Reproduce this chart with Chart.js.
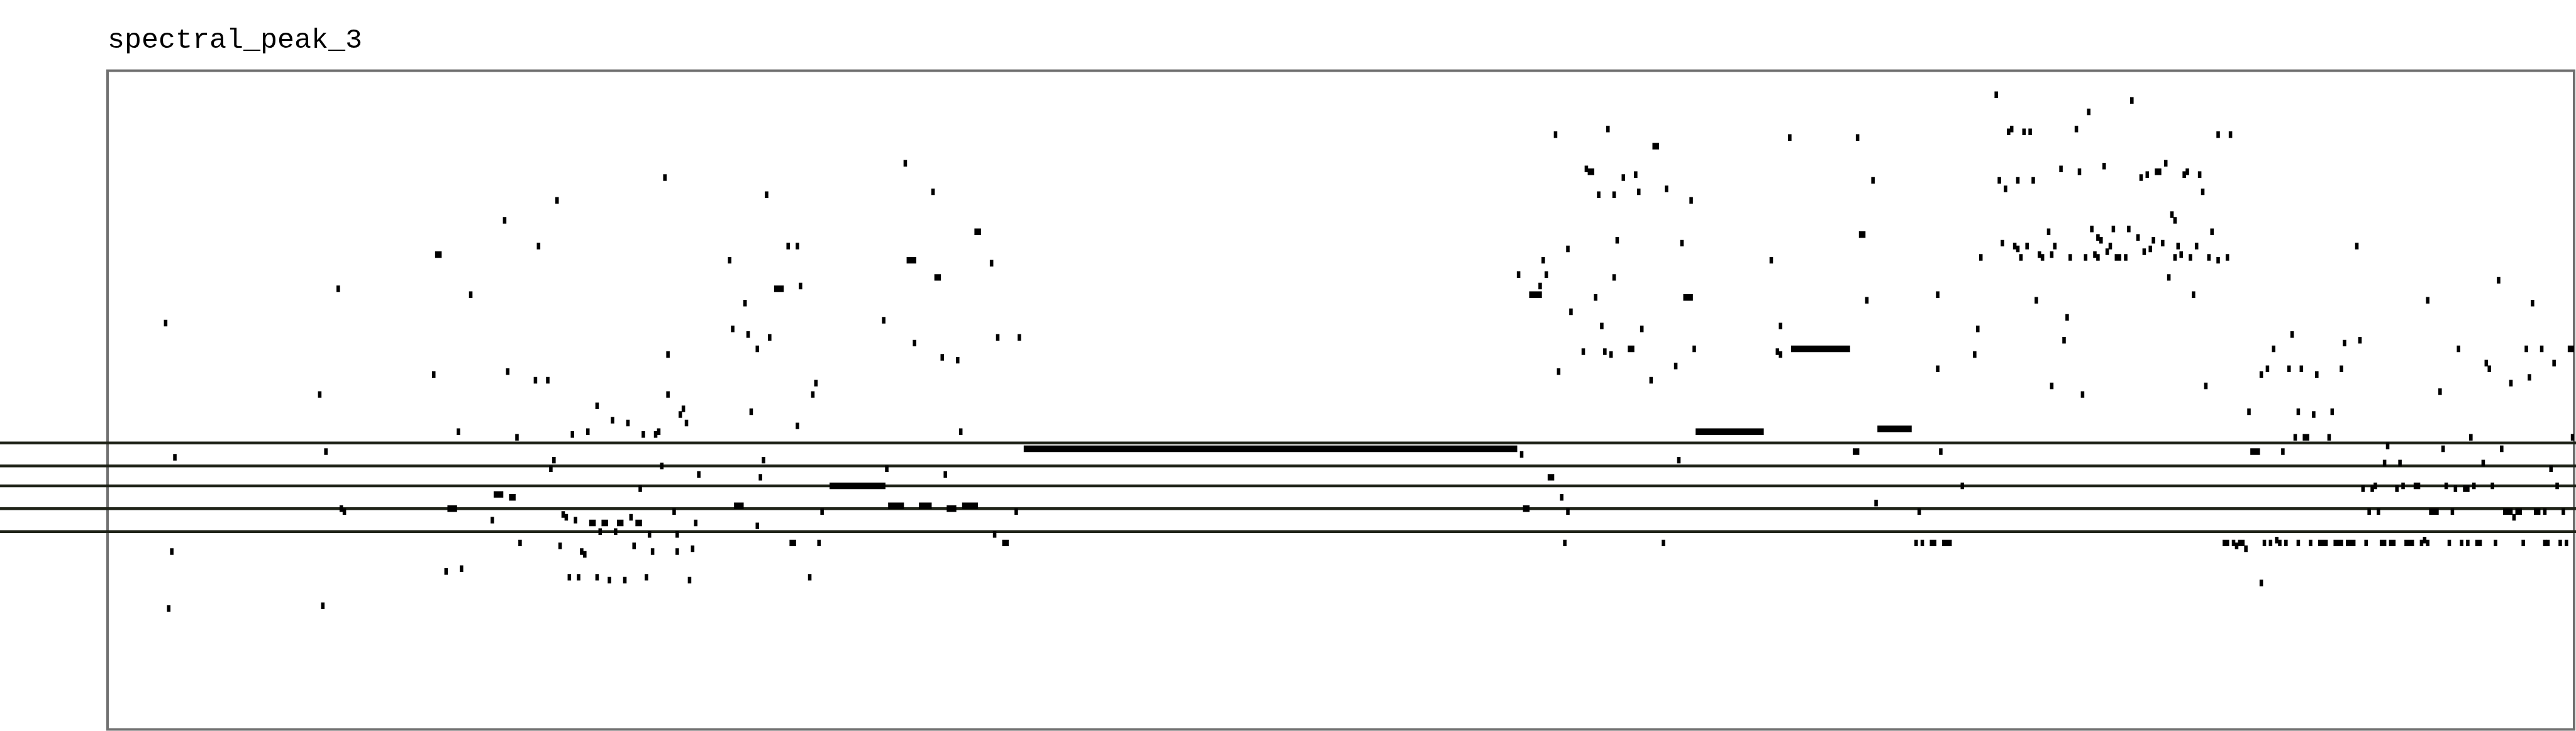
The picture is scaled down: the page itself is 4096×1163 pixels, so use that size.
<!DOCTYPE html>
<html lang="en">
<head>
  <meta charset="UTF-8" />
  <title>spectral_peak_3</title>
  <script src="https://cdn.jsdelivr.net/npm/chart.js"></script>
  <style>
    html, body {
      margin: 0;
      padding: 0;
      background: #ffffff;
      overflow: hidden;
    }
    canvas {
      display: block;
    }
  </style>
</head>
<body>
  <canvas id="peakChart" width="4096" height="1163"></canvas>

  <script>
    // peaks as [onset frame, length in frames, pitch row]
    const phrase1 = [
      [18,1,73], [19,1,-27], [20,1,-7], [21,1,26],
      [68,1,48], [69,1,-26], [70,1,28], [74,1,85], [75,1,8], [76,1,7],
      [105,1,55], [106,2,97], [109,1,-14], [110,3,8], [113,1,35], [114,1,-13],
      [117,1,83], [124,1,4], [125,3,13], [128,1,109], [129,1,56], [130,2,12]
    ];
    const phrase2 = [
      [132,1,33], [133,1,-4], [138,1,53], [139,1,100], [142,1,53], [143,1,22], [144,1,25],
      [145,1,116], [146,1,-5], [147,1,6], [148,1,5], [149,1,-16], [150,1,34], [151,1,4],
      [152,1,-16], [153,1,-7], [154,1,-8], [155,1,35], [156,2,3], [158,1,44], [158,1,-16],
      [159,1,0], [160,2,3], [162,1,-17], [163,1,39], [164,1,0], [165,2,3], [167,1,-17],
      [168,1,38], [169,1,5], [170,1,-5], [171,2,3], [172,1,15], [173,1,34], [174,1,-16],
      [175,1,-1], [176,1,-7], [177,1,34], [178,1,35], [179,1,23], [180,1,124], [181,1,62],
      [181,1,48], [183,1,7], [184,1,-1], [184,1,-7], [185,1,41], [186,1,43], [187,1,38],
      [188,1,-17], [189,1,-6], [190,1,3], [191,1,20],
      [201,1,95], [202,1,71], [203,3,9], [206,1,80], [207,1,69], [208,1,42], [210,1,64],
      [210,1,2], [211,1,19], [212,1,25], [213,1,118], [214,1,68], [216,3,85], [220,1,100],
      [221,2,-4], [223,1,100], [223,1,37], [224,1,86], [227,1,-16], [228,1,48], [229,1,52],
      [230,1,-4], [231,1,7], [234,18,16], [251,1,74], [252,1,22], [253,5,9], [258,1,129],
      [259,3,95], [261,1,66]
    ];
    const phrase3 = [
      [263,4,9], [267,1,119], [268,2,89], [270,1,61], [271,1,20], [272,3,8], [275,1,60],
      [276,1,35], [277,5,9], [281,2,105], [286,1,94], [287,1,-1], [288,1,68], [290,2,-4],
      [294,1,7], [295,1,68], [297,160,29], [457,1,90], [458,1,27], [459,2,8]
    ];
    const phrase4 = [
      [461,4,83], [464,1,86], [465,1,95], [466,1,90], [467,2,19], [469,1,139], [470,1,56],
      [471,1,12], [472,1,-4], [473,1,99], [473,1,7], [474,1,77], [478,1,63], [479,1,127],
      [480,2,126], [482,1,82], [483,1,118], [484,1,72], [485,1,63], [486,1,141], [487,1,62],
      [488,1,118], [488,1,89], [489,1,102], [491,1,124], [493,2,64], [495,1,125], [496,1,119],
      [497,1,71], [500,1,53], [501,2,135], [504,1,-4], [505,1,120], [508,1,58], [509,1,25],
      [510,1,101], [511,3,82], [513,1,116], [514,1,64], [515,22,35], [539,1,95], [541,1,63],
      [542,1,62], [542,1,72], [545,1,138], [546,19,64], [566,2,28], [567,1,138], [568,2,104],
      [570,1,81], [572,1,123], [573,1,10], [574,11,36], [586,1,-4], [587,1,7], [588,1,-4],
      [591,2,-4], [593,1,83], [593,1,57], [594,1,28], [595,3,-4]
    ];
    const phrase5 = [
      [601,1,16], [605,1,62], [606,1,71], [607,1,96], [612,1,153], [613,1,123], [614,1,101],
      [615,1,120], [616,1,140], [617,1,141], [618,1,100], [619,1,99], [619,1,123], [620,1,96],
      [621,1,140], [622,1,100], [623,1,140], [624,1,123], [625,1,81], [626,1,97], [627,1,96],
      [629,1,105], [630,1,97], [630,1,51], [631,1,100], [633,1,127], [634,1,67], [635,1,75],
      [636,1,96], [638,1,141], [639,1,126], [640,1,48], [641,1,96], [642,1,147], [643,1,106],
      [644,1,97], [645,1,96], [645,1,103], [646,1,102], [647,1,128], [648,1,98], [649,1,100],
      [650,1,106], [651,2,96], [654,1,96], [655,1,106], [656,1,151], [658,1,103], [659,1,124],
      [660,1,98], [661,1,125], [662,1,99], [663,1,102], [664,2,126], [666,1,101], [667,1,129],
      [668,1,89], [669,1,111], [670,1,109], [670,1,96], [671,1,100], [672,1,97], [673,1,125],
      [674,1,126], [675,1,96], [676,1,83], [677,1,100], [678,1,125], [679,1,119], [680,1,51],
      [681,1,96], [682,1,105], [684,1,139], [684,1,95], [686,2,-4], [687,1,96], [688,1,139],
      [689,1,-4], [690,1,-5], [691,2,-4], [693,1,-6], [694,1,42], [695,3,28], [698,1,55],
      [698,1,-18], [699,1,-4], [700,1,57], [701,1,-4], [702,1,64], [703,1,-3], [704,1,-4],
      [705,1,28]
    ];
    const phrase6 = [
      [706,1,-4], [707,1,57], [708,1,69], [709,1,33], [710,1,42], [710,1,-4], [711,1,57],
      [712,2,33], [714,1,-4], [715,1,41], [716,1,55], [717,3,-4], [720,1,33], [721,1,42],
      [722,3,-4], [724,1,57], [725,1,66], [726,3,-4], [729,1,100], [730,1,67], [731,1,15],
      [732,1,-4], [733,1,7], [734,1,15], [735,1,16], [736,1,7], [737,2,-4], [738,1,24],
      [739,1,30], [740,2,-4], [742,1,15], [743,1,24], [744,1,16], [745,3,-4], [748,2,16],
      [750,1,-4], [751,1,-3], [752,1,81], [752,1,-4], [753,3,7], [756,1,49], [757,1,29],
      [758,1,16], [759,1,-4], [760,1,7], [761,1,15], [762,1,64], [763,1,-4], [764,2,15],
      [765,1,-4], [766,1,33], [767,1,16], [768,2,-4], [770,1,24], [771,1,59], [772,1,57],
      [773,1,16], [774,1,-4], [775,1,88], [776,1,29], [777,3,7], [779,1,52], [780,1,5],
      [781,2,7], [783,1,-4], [784,1,64], [785,1,54], [786,1,80], [787,2,7], [789,1,64],
      [790,1,7], [790,1,-4], [791,1,-4], [792,1,22], [793,1,59], [794,1,16], [795,1,-4],
      [796,1,7], [797,1,-4], [798,2,64], [799,1,33]
    ];

    // reference lines (pitch rows)
    const staffRows = [0, 8, 16, 23, 31];

    const frameRange = [-0.35, 800];
    const rowRange = [-69.3, 161.4];

    const peaks = [].concat(phrase1, phrase2, phrase3, phrase4, phrase5, phrase6)
      .map(p => ({ y: p[2], x: [p[0], p[0] + p[1]] }));

    // plot frame + staff lines, drawn under the peaks
    const staffPlugin = {
      id: 'staffPlugin',
      beforeDatasetsDraw(chart) {
        const { ctx, chartArea: a } = chart;
        const y = chart.scales.y;
        ctx.save();
        ctx.strokeStyle = '#707070';
        ctx.lineWidth = 4;
        ctx.strokeRect(a.left, a.top, a.right - a.left, a.bottom - a.top);

        ctx.strokeStyle = '#1f2318';
        ctx.lineWidth = 4.5;
        staffRows.forEach(r => {
          const py = y.getPixelForValue(r);
          ctx.beginPath();
          ctx.moveTo(0, py);
          ctx.lineTo(chart.width, py);
          ctx.stroke();
        });
        ctx.restore();
      }
    };

    const ctx = document.getElementById('peakChart').getContext('2d');
    new Chart(ctx, {
      type: 'bar',
      data: {
        datasets: [{
          label: 'spectral_peak_3',
          data: peaks,
          backgroundColor: '#000000',
          borderWidth: 0,
          barThickness: 9.8
        }]
      },
      options: {
        indexAxis: 'y',
        responsive: false,
        devicePixelRatio: 1,
        animation: false,
        layout: { padding: { left: 171, right: 3, top: 0, bottom: 2.5 } },
        scales: {
          x: { type: 'linear', min: frameRange[0], max: frameRange[1], display: false },
          y: { type: 'linear', min: rowRange[0], max: rowRange[1], offset: false, display: false }
        },
        plugins: {
          legend: { display: false },
          tooltip: { enabled: false },
          title: {
            display: true,
            text: 'spectral_peak_3',
            align: 'start',
            color: '#000000',
            font: { family: "'Liberation Mono', 'DejaVu Sans Mono', monospace", size: 45, weight: 'normal', lineHeight: 1 },
            padding: { top: 42, bottom: 25.5 }
          }
        }
      },
      plugins: [staffPlugin]
    });
  </script>
</body>
</html>
